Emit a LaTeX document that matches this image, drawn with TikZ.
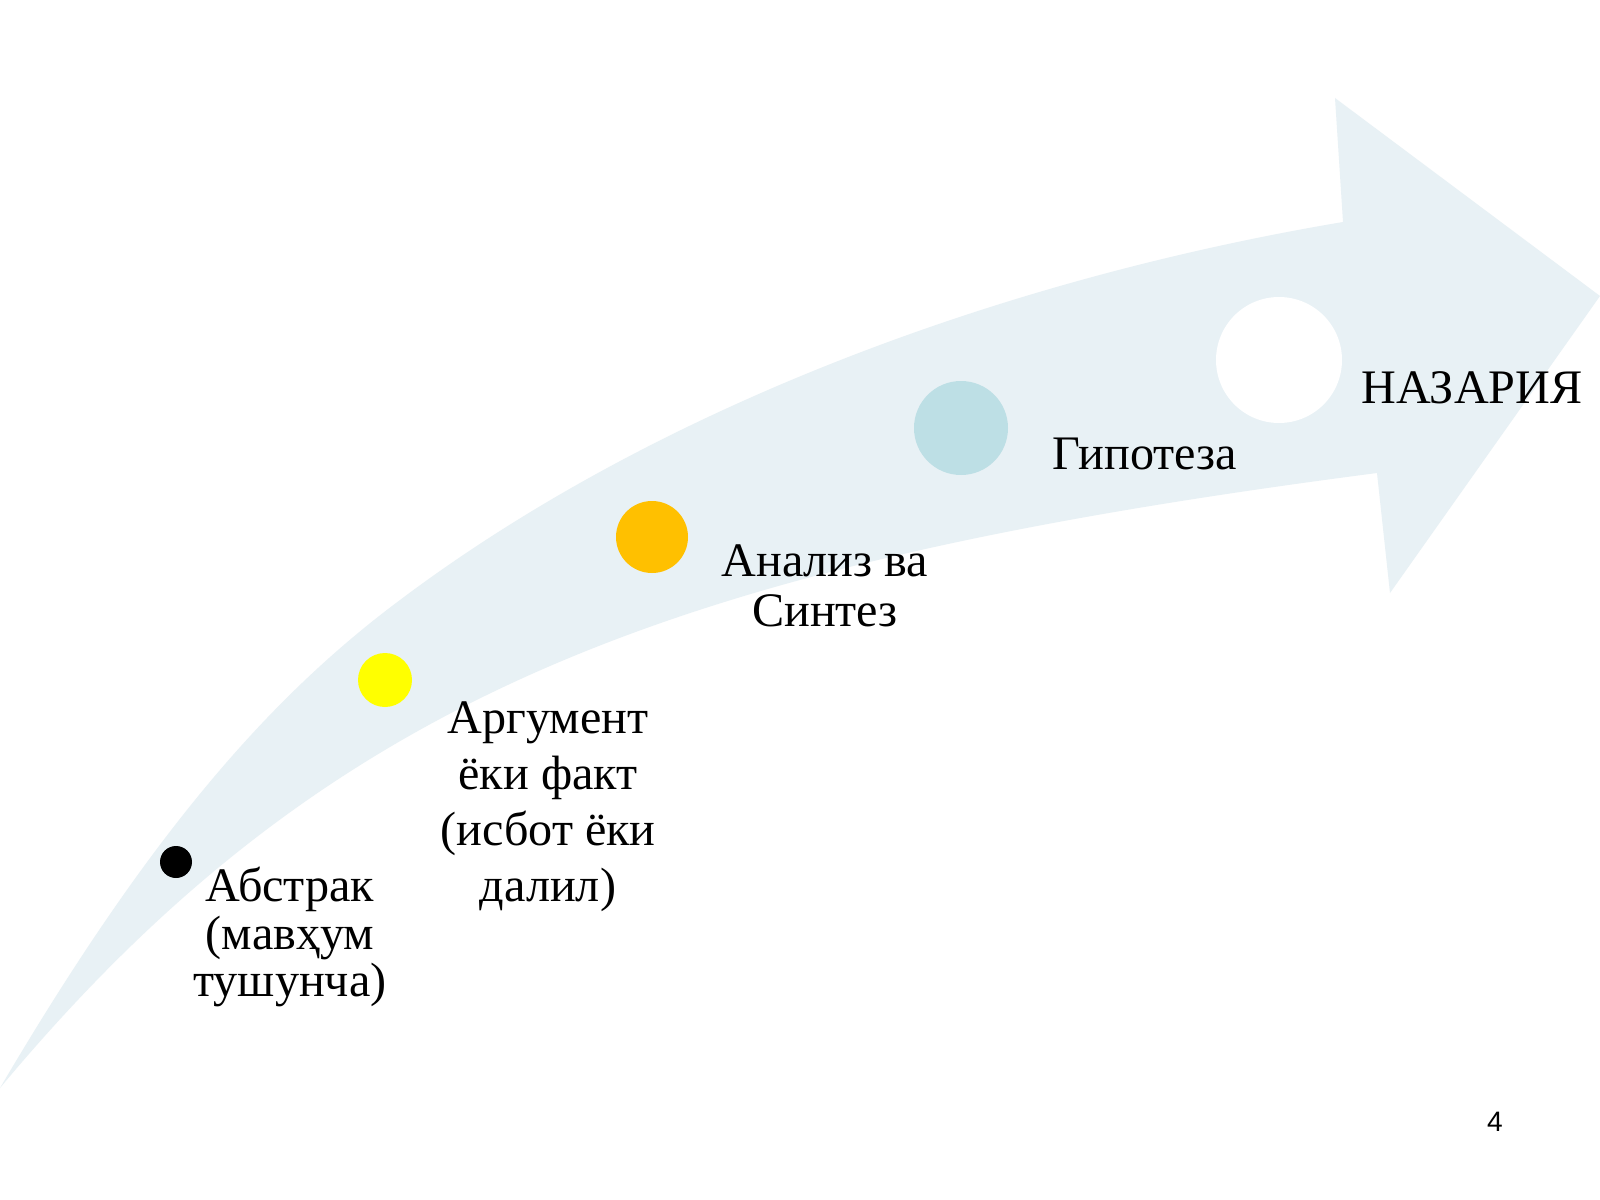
\documentclass[tikz,border=0pt]{standalone}
\usepackage{fontspec}
\setmainfont{Liberation Serif}
\newfontfamily\pagenumfont{Liberation Sans}
\usetikzlibrary{positioning}
\definecolor{bandblue}{RGB}{232,241,245}
\definecolor{dotyellow}{RGB}{255,255,0}
\definecolor{dotorange}{RGB}{255,192,0}
\definecolor{dotblue}{RGB}{189,223,229}

\begin{document}
\begin{tikzpicture}[
    x=0.1mm, y=-0.1mm,
    dot/.style={circle, inner sep=0pt, draw=none},
    stage/.style={align=center, inner sep=0pt, font=\fontsize{13.7}{13.4}\selectfont}
]
\useasboundingbox (0,0) rectangle (1600,1200);
\fill[white] (0,0) rectangle (1600,1200);

% Arrow
\fill[bandblue] (0,1088) .. controls (150,833) and (270,697) .. (400,600)
  .. controls (650,412) and (993,281) .. (1343,222)
  -- (1335,98) -- (1600,296) -- (1390,593) -- (1377,473)
  .. controls (677,564) and (330,692) .. (0,1088) -- cycle;

% Nodes
\node[dot, fill=black, minimum size=3.2mm] (abs) at (176,862) {};
\node[dot, fill=dotyellow, minimum size=5.4mm] (arg) at (385,680) {};
\node[dot, fill=dotorange, minimum size=7.2mm] (ana) at (652,537) {};
\node[dot, fill=dotblue, minimum size=9.4mm] (hyp) at (961,428) {};
\node[dot, fill=white, minimum size=12.6mm] (naz) at (1279,360) {};

% Labels
\node[stage] (absL) at (290,937) {Абстрак\\(мавҳум\\тушунча)};
\node[stage, font=\fontsize{13.7}{15.9}\selectfont] (argL) at (548,807) {Аргумент\\ёки факт\\(исбот ёки\\далил)};
\node[stage, font=\fontsize{13.7}{14.2}\selectfont] (anaL) at (825,586) {Анализ ва\\Синтез};
\node[stage] (hypL) at (1145,454) {Гипотеза};
\node[stage] (nazL) at (1472,388) {НАЗАРИЯ};
\node[font=\pagenumfont\fontsize{8}{9.6}\selectfont, inner sep=0pt] (page) at (1495,1122) {4};

\end{tikzpicture}
\end{document}
